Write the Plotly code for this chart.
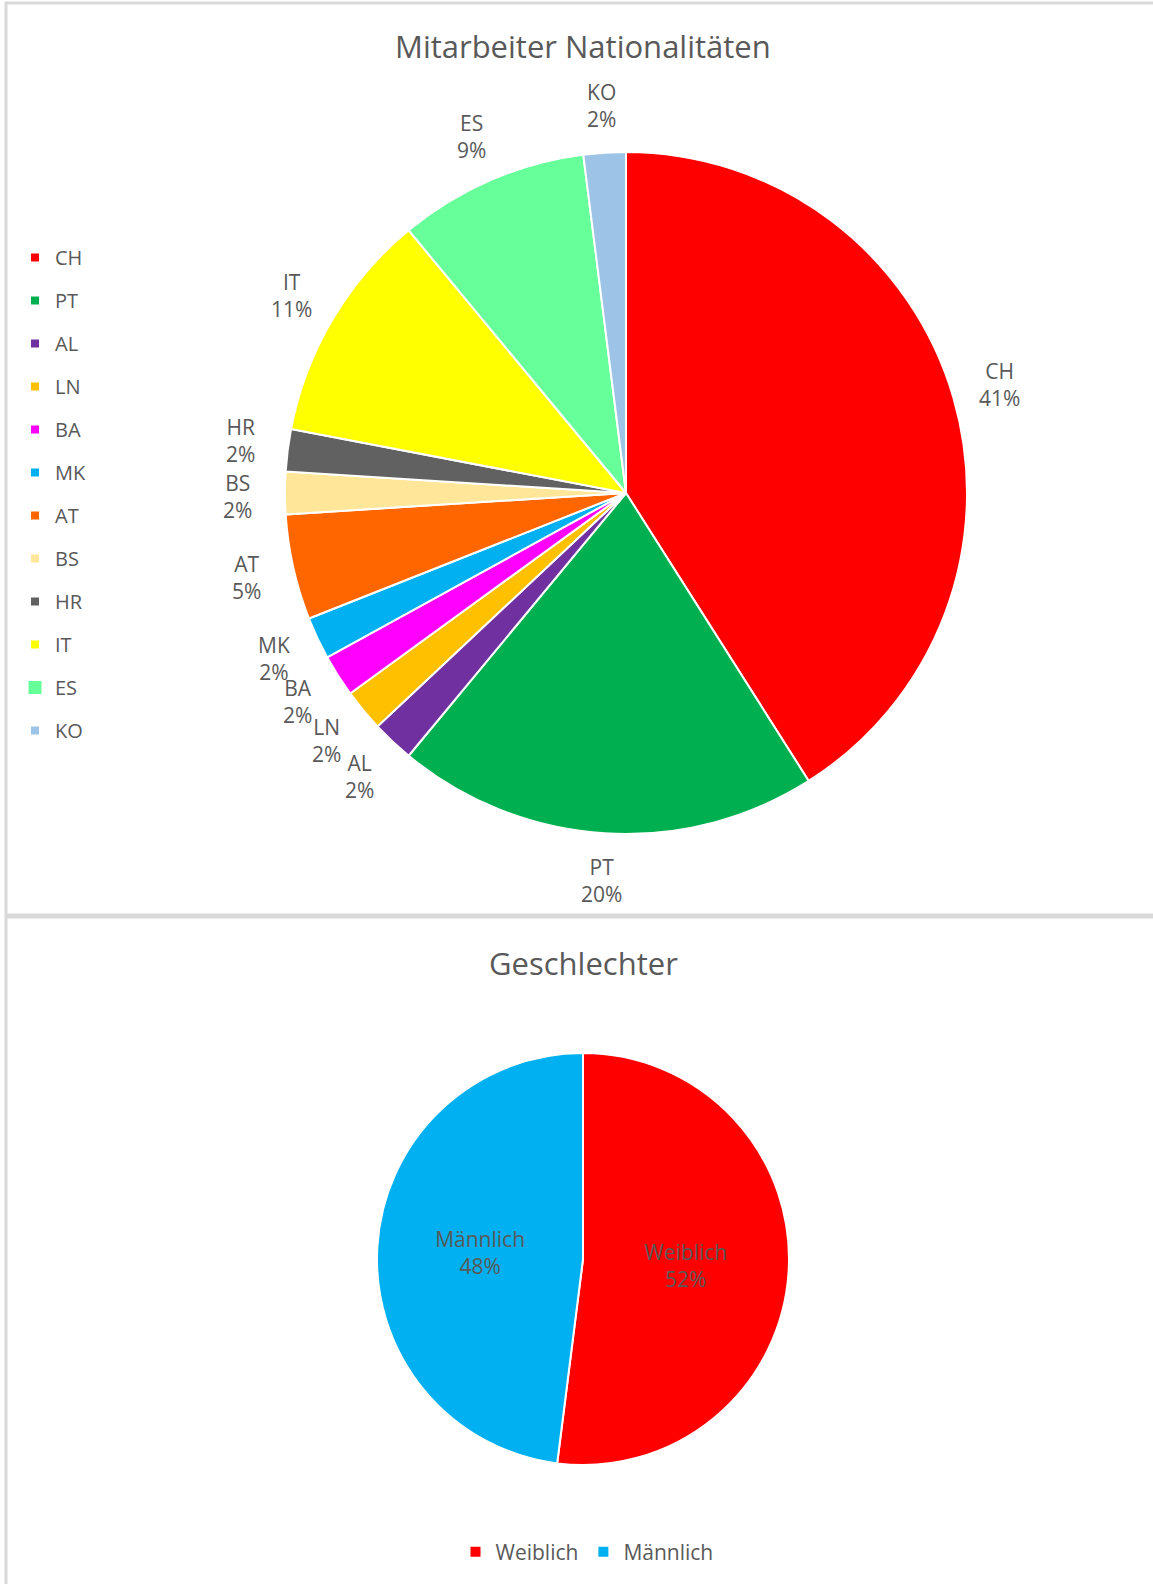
import math
import plotly.graph_objects as go

# ---- data ----
nat_labels = ["CH", "PT", "AL", "LN", "BA", "MK", "AT", "BS", "HR", "IT", "ES", "KO"]
nat_values = [41, 20, 2, 2, 2, 2, 5, 2, 2, 11, 9, 2]
nat_colors = ["#FF0000", "#00B050", "#7030A0", "#FFC000", "#FF00FF", "#00B0F0",
              "#FF6600", "#FFE699", "#616161", "#FFFF00", "#66FF99", "#9DC3E6"]

gender_labels = ["Weiblich", "Männlich"]
gender_values = [52, 48]
gender_colors = ["#FF0000", "#00B0F0"]

FONT = "Open Sans"
GREY = "#595959"
W, H = 1153, 1584
LABEL_FS = 21


def px_x(v):
    return v / W


def px_y(v):
    return 1 - v / H


fig = go.Figure()

# top pie
cx, cy, r = 626, 493, 341
fig.add_trace(go.Pie(
    labels=nat_labels, values=nat_values, sort=False, direction="clockwise", rotation=0,
    marker=dict(colors=nat_colors, line=dict(color="white", width=2)),
    textinfo="none",
    domain=dict(x=[px_x(cx - r), px_x(cx + r)], y=[px_y(cy + r), px_y(cy - r)]),
    showlegend=False,
))

# data labels placed outside along each slice's mid-angle (Excel style, no leader lines)
total = sum(nat_values)
cum = 0.0
labels_pos = []
for lab, val in zip(nat_labels, nat_values):
    mid = (cum + val / 2) / total * 2 * math.pi
    cum += val
    k = 1.14
    lx = cx + k * r * math.sin(mid)
    ly = cy - k * r * math.cos(mid)
    txt = f"{lab}<br>{round(val / total * 100)}%"
    labels_pos.append([lx, ly, txt])

# simple de-overlap: push vertically-stacked neighbours apart
lab_w = 0.6 * LABEL_FS * 3
lab_h = 2 * 1.3 * LABEL_FS + 2
for _ in range(5):
    for i in range(len(labels_pos)):
        a = labels_pos[i]
        b = labels_pos[(i + 1) % len(labels_pos)]
        if abs(a[0] - b[0]) < 0.5 * lab_w:
            dy = b[1] - a[1]
            if abs(dy) < lab_h:
                push = (lab_h - abs(dy)) / 2
                sgn = 1 if dy >= 0 else -1
                a[1] -= sgn * push
                b[1] += sgn * push

annotations = []
for lx, ly, txt in labels_pos:
    annotations.append(dict(
        text=txt, x=px_x(lx), y=px_y(ly),
        xref="paper", yref="paper", xanchor="center", yanchor="middle", showarrow=False,
        font=dict(family=FONT, size=LABEL_FS, color=GREY),
    ))

# legend entries for top pie
for lab, col in zip(nat_labels, nat_colors):
    fig.add_trace(go.Scatter(
        x=[None], y=[None], mode="markers", name=lab, legendgroup=lab,
        marker=dict(symbol="square", size=13 if lab == "ES" else 8, color=col),
        showlegend=True, legend="legend", hoverinfo="skip",
    ))

# bottom pie
bx, by, br = 583, 1259, 206
fig.add_trace(go.Pie(
    labels=gender_labels, values=gender_values, sort=False, direction="clockwise", rotation=0,
    marker=dict(colors=gender_colors, line=dict(color="white", width=2)),
    texttemplate="%{label}<br>%{percent:.0%}", textposition="inside",
    insidetextorientation="horizontal",
    textfont=dict(family=FONT, size=21, color=GREY),
    domain=dict(x=[px_x(bx - br), px_x(bx + br)], y=[px_y(by + br), px_y(by - br)]),
    showlegend=True, legend="legend2",
))

border = "#D9D9D9"
shapes = [
    dict(type="line", xref="paper", yref="paper", x0=px_x(5), x1=1, y0=px_y(3), y1=px_y(3),
         line=dict(color=border, width=3)),
    dict(type="line", xref="paper", yref="paper", x0=px_x(6), x1=px_x(6), y0=px_y(2), y1=0,
         line=dict(color=border, width=3)),
    dict(type="line", xref="paper", yref="paper", x0=px_x(5), x1=1, y0=px_y(916), y1=px_y(916),
         line=dict(color=border, width=5)),
]

annotations += [
    dict(text="Mitarbeiter Nationalitäten", x=px_x(583), y=px_y(46), xref="paper", yref="paper",
         xanchor="center", yanchor="middle", showarrow=False,
         font=dict(family=FONT, size=31, color=GREY)),
    dict(text="Geschlechter", x=px_x(583), y=px_y(963), xref="paper", yref="paper",
         xanchor="center", yanchor="middle", showarrow=False,
         font=dict(family=FONT, size=31, color=GREY)),
]

fig.update_layout(
    width=W, height=H, margin=dict(l=0, r=0, t=0, b=0),
    paper_bgcolor="white", plot_bgcolor="white",
    font=dict(family=FONT, color=GREY),
    xaxis=dict(visible=False), yaxis=dict(visible=False),
    shapes=shapes, annotations=annotations,
    legend=dict(x=px_x(15), y=px_y(238), xanchor="left", yanchor="top",
                font=dict(family=FONT, size=20, color=GREY),
                tracegroupgap=14, traceorder="grouped", bgcolor="rgba(0,0,0,0)"),
    legend2=dict(orientation="h", x=px_x(587), y=px_y(1552), xanchor="center", yanchor="middle",
                 font=dict(family=FONT, size=21, color=GREY), bgcolor="rgba(0,0,0,0)"),
)

fig.write_html("out.html", config={"displayModeBar": False},
               post_script="document.body.style.margin='0px';")
